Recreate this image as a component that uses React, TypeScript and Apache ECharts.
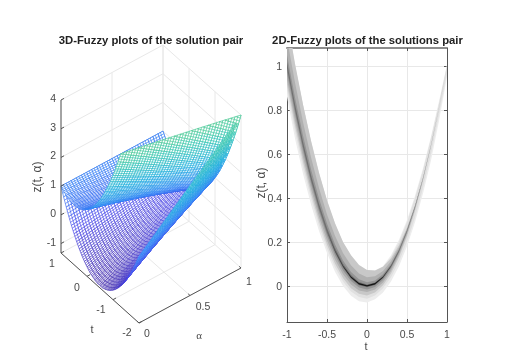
import React, { useEffect, useRef } from "react";
import * as echarts from "echarts";

// ---------- left panel: values ----------
const tValues = [-2,-1.9,-1.8,-1.7,-1.6,-1.5,-1.4,-1.3,-1.2,-1.1,-1,-.9,-.8,-.7,-.6,-.5,-.4,-.3,-.2,-.1,0,.1,.2,.3,.4,.5,.6,.7,.8,.9,1];
const alphaValues = [0,.05,.1,.15,.2,.25,.3,.35,.4,.45,.5,.55,.6,.65,.7,.75,.8,.85,.9,.95,1];
// one row per t, one column per alpha
const upperSheet = [
[7,6.85,6.7,6.55,6.4,6.25,6.1,5.95,5.8,5.65,5.5,5.35,5.2,5.05,4.9,4.75,4.6,4.45,4.3,4.15,4],
[6.51,6.37,6.22,6.08,5.93,5.79,5.64,5.5,5.35,5.21,5.06,4.92,4.77,4.63,4.48,4.34,4.19,4.05,3.9,3.76,3.61],
[6.04,5.9,5.76,5.62,5.48,5.34,5.2,5.06,4.92,4.78,4.64,4.5,4.36,4.22,4.08,3.94,3.8,3.66,3.52,3.38,3.24],
[5.59,5.46,5.32,5.19,5.05,4.92,4.78,4.65,4.51,4.38,4.24,4.11,3.97,3.84,3.7,3.57,3.43,3.3,3.16,3.03,2.89],
[5.16,5.03,4.9,4.77,4.64,4.51,4.38,4.25,4.12,3.99,3.86,3.73,3.6,3.47,3.34,3.21,3.08,2.95,2.82,2.69,2.56],
[4.75,4.63,4.5,4.38,4.25,4.13,4,3.88,3.75,3.63,3.5,3.38,3.25,3.13,3,2.88,2.75,2.63,2.5,2.38,2.25],
[4.36,4.24,4.12,4,3.88,3.76,3.64,3.52,3.4,3.28,3.16,3.04,2.92,2.8,2.68,2.56,2.44,2.32,2.2,2.08,1.96],
[3.99,3.88,3.76,3.65,3.53,3.42,3.3,3.19,3.07,2.96,2.84,2.73,2.61,2.5,2.38,2.27,2.15,2.04,1.92,1.81,1.69],
[3.64,3.53,3.42,3.31,3.2,3.09,2.98,2.87,2.76,2.65,2.54,2.43,2.32,2.21,2.1,1.99,1.88,1.77,1.66,1.55,1.44],
[3.31,3.21,3.1,3,2.89,2.79,2.68,2.58,2.47,2.37,2.26,2.16,2.05,1.95,1.84,1.74,1.63,1.53,1.42,1.32,1.21],
[3,2.9,2.8,2.7,2.6,2.5,2.4,2.3,2.2,2.1,2,1.9,1.8,1.7,1.6,1.5,1.4,1.3,1.2,1.1,1],
[2.71,2.62,2.52,2.43,2.33,2.24,2.14,2.05,1.95,1.86,1.76,1.67,1.57,1.48,1.38,1.29,1.19,1.1,1,.91,.81],
[2.44,2.35,2.26,2.17,2.08,1.99,1.9,1.81,1.72,1.63,1.54,1.45,1.36,1.27,1.18,1.09,1,.91,.82,.73,.64],
[2.19,2.11,2.02,1.94,1.85,1.77,1.68,1.6,1.51,1.43,1.34,1.26,1.17,1.09,1,.92,.83,.75,.66,.58,.49],
[1.96,1.88,1.8,1.72,1.64,1.56,1.48,1.4,1.32,1.24,1.16,1.08,1,.92,.84,.76,.68,.6,.52,.44,.36],
[1.75,1.68,1.6,1.53,1.45,1.38,1.3,1.23,1.15,1.08,1,.93,.85,.78,.7,.63,.55,.48,.4,.33,.25],
[1.56,1.49,1.42,1.35,1.28,1.21,1.14,1.07,1,.93,.86,.79,.72,.65,.58,.51,.44,.37,.3,.23,.16],
[1.39,1.33,1.26,1.2,1.13,1.07,1,.94,.87,.81,.74,.68,.61,.55,.48,.42,.35,.29,.22,.16,.09],
[1.24,1.18,1.12,1.06,1,.94,.88,.82,.76,.7,.64,.58,.52,.46,.4,.34,.28,.22,.16,.1,.04],
[1.11,1.06,1,.95,.89,.84,.78,.73,.67,.62,.56,.51,.45,.4,.34,.29,.23,.18,.12,.07,.01],
[1,.95,.9,.85,.8,.75,.7,.65,.6,.55,.5,.45,.4,.35,.3,.25,.2,.15,.1,.05,0],
[.91,.87,.82,.78,.73,.69,.64,.6,.55,.51,.46,.42,.37,.33,.28,.24,.19,.15,.1,.06,.01],
[.84,.8,.76,.72,.68,.64,.6,.56,.52,.48,.44,.4,.36,.32,.28,.24,.2,.16,.12,.08,.04],
[.79,.76,.72,.69,.65,.62,.58,.55,.51,.48,.44,.41,.37,.34,.3,.27,.23,.2,.16,.13,.09],
[.76,.73,.7,.67,.64,.61,.58,.55,.52,.49,.46,.43,.4,.37,.34,.31,.28,.25,.22,.19,.16],
[.75,.73,.7,.68,.65,.63,.6,.58,.55,.53,.5,.48,.45,.43,.4,.38,.35,.33,.3,.28,.25],
[.76,.74,.72,.7,.68,.66,.64,.62,.6,.58,.56,.54,.52,.5,.48,.46,.44,.42,.4,.38,.36],
[.79,.78,.76,.75,.73,.72,.7,.69,.67,.66,.64,.63,.61,.6,.58,.57,.55,.54,.52,.51,.49],
[.84,.83,.82,.81,.8,.79,.78,.77,.76,.75,.74,.73,.72,.71,.7,.69,.68,.67,.66,.65,.64],
[.91,.91,.9,.9,.89,.89,.88,.88,.87,.87,.86,.86,.85,.85,.84,.84,.83,.83,.82,.82,.81],
[1,1,1,1,1,1,1,1,1,1,1,1,1,1,1,1,1,1,1,1,1],
];
const lowerSheet = [
[1,1.15,1.3,1.45,1.6,1.75,1.9,2.05,2.2,2.35,2.5,2.65,2.8,2.95,3.1,3.25,3.4,3.55,3.7,3.85,4],
[.71,.86,1,1.15,1.29,1.44,1.58,1.73,1.87,2.02,2.16,2.31,2.45,2.6,2.74,2.89,3.03,3.18,3.32,3.47,3.61],
[.44,.58,.72,.86,1,1.14,1.28,1.42,1.56,1.7,1.84,1.98,2.12,2.26,2.4,2.54,2.68,2.82,2.96,3.1,3.24],
[.19,.33,.46,.6,.73,.87,1,1.14,1.27,1.41,1.54,1.68,1.81,1.95,2.08,2.22,2.35,2.49,2.62,2.76,2.89],
[-.04,.09,.22,.35,.48,.61,.74,.87,1,1.13,1.26,1.39,1.52,1.65,1.78,1.91,2.04,2.17,2.3,2.43,2.56],
[-.25,-.13,0,.13,.25,.38,.5,.63,.75,.88,1,1.13,1.25,1.38,1.5,1.63,1.75,1.88,2,2.13,2.25],
[-.44,-.32,-.2,-.08,.04,.16,.28,.4,.52,.64,.76,.88,1,1.12,1.24,1.36,1.48,1.6,1.72,1.84,1.96],
[-.61,-.5,-.38,-.27,-.15,-.04,.08,.19,.31,.42,.54,.65,.77,.88,1,1.11,1.23,1.34,1.46,1.57,1.69],
[-.76,-.65,-.54,-.43,-.32,-.21,-.1,.01,.12,.23,.34,.45,.56,.67,.78,.89,1,1.11,1.22,1.33,1.44],
[-.89,-.79,-.68,-.58,-.47,-.37,-.26,-.16,-.05,.06,.16,.27,.37,.48,.58,.69,.79,.9,1,1.11,1.21],
[-1,-.9,-.8,-.7,-.6,-.5,-.4,-.3,-.2,-.1,0,.1,.2,.3,.4,.5,.6,.7,.8,.9,1],
[-1.09,-1,-.9,-.81,-.71,-.62,-.52,-.43,-.33,-.24,-.14,-.05,.05,.14,.24,.33,.43,.52,.62,.72,.81],
[-1.16,-1.07,-.98,-.89,-.8,-.71,-.62,-.53,-.44,-.35,-.26,-.17,-.08,.01,.1,.19,.28,.37,.46,.55,.64],
[-1.21,-1.13,-1.04,-.96,-.87,-.79,-.7,-.62,-.53,-.45,-.36,-.28,-.19,-.11,-.02,.07,.15,.24,.32,.41,.49],
[-1.24,-1.16,-1.08,-1,-.92,-.84,-.76,-.68,-.6,-.52,-.44,-.36,-.28,-.2,-.12,-.04,.04,.12,.2,.28,.36],
[-1.25,-1.18,-1.1,-1.03,-.95,-.88,-.8,-.73,-.65,-.58,-.5,-.43,-.35,-.28,-.2,-.13,-.05,.03,.1,.18,.25],
[-1.24,-1.17,-1.1,-1.03,-.96,-.89,-.82,-.75,-.68,-.61,-.54,-.47,-.4,-.33,-.26,-.19,-.12,-.05,.02,.09,.16],
[-1.21,-1.15,-1.08,-1.02,-.95,-.89,-.82,-.76,-.69,-.63,-.56,-.5,-.43,-.37,-.3,-.24,-.17,-.11,-.04,.03,.09],
[-1.16,-1.1,-1.04,-.98,-.92,-.86,-.8,-.74,-.68,-.62,-.56,-.5,-.44,-.38,-.32,-.26,-.2,-.14,-.08,-.02,.04],
[-1.09,-1.04,-.98,-.93,-.87,-.82,-.76,-.71,-.65,-.6,-.54,-.49,-.43,-.38,-.32,-.27,-.21,-.16,-.1,-.05,.01],
[-1,-.95,-.9,-.85,-.8,-.75,-.7,-.65,-.6,-.55,-.5,-.45,-.4,-.35,-.3,-.25,-.2,-.15,-.1,-.05,0],
[-.89,-.85,-.8,-.76,-.71,-.67,-.62,-.58,-.53,-.49,-.44,-.4,-.35,-.31,-.26,-.22,-.17,-.13,-.08,-.04,.01],
[-.76,-.72,-.68,-.64,-.6,-.56,-.52,-.48,-.44,-.4,-.36,-.32,-.28,-.24,-.2,-.16,-.12,-.08,-.04,0,.04],
[-.61,-.58,-.54,-.51,-.47,-.44,-.4,-.37,-.33,-.3,-.26,-.23,-.19,-.16,-.12,-.09,-.05,-.02,.02,.06,.09],
[-.44,-.41,-.38,-.35,-.32,-.29,-.26,-.23,-.2,-.17,-.14,-.11,-.08,-.05,-.02,.01,.04,.07,.1,.13,.16],
[-.25,-.23,-.2,-.18,-.15,-.13,-.1,-.08,-.05,-.03,0,.03,.05,.08,.1,.13,.15,.18,.2,.23,.25],
[-.04,-.02,0,.02,.04,.06,.08,.1,.12,.14,.16,.18,.2,.22,.24,.26,.28,.3,.32,.34,.36],
[.19,.21,.22,.24,.25,.27,.28,.3,.31,.33,.34,.36,.37,.39,.4,.42,.43,.45,.46,.48,.49],
[.44,.45,.46,.47,.48,.49,.5,.51,.52,.53,.54,.55,.56,.57,.58,.59,.6,.61,.62,.63,.64],
[.71,.72,.72,.73,.73,.74,.74,.75,.75,.76,.76,.77,.77,.78,.78,.79,.79,.8,.8,.81,.81],
[1,1,1,1,1,1,1,1,1,1,1,1,1,1,1,1,1,1,1,1,1],
];
const zTicks3d = [-1, 0, 1, 2, 3, 4];
const tTicks3d = [1, 0, -1, -2];
const alphaTicks3d = [0, 0.5, 1];
const zMin3d = -1.33;
const zMax3d = 4;

// ---------- right panel ----------
const bandT = [-1,-.9,-.8,-.7,-.6,-.5,-.4,-.3,-.2,-.1,0,.1,.2,.3,.4,.5,.6,.7,.8,.9,1];
const bandCentre = [1,.81,.64,.49,.36,.25,.16,.09,.04,.01,0,.01,.04,.09,.16,.25,.36,.49,.64,.81,1];
const up0 = [.22,.2,.185,.17,.155,.14,.125,.11,.1,.085,.073,.06,.05,.05,.05,.05,.05,.045,.04,.03,.005];
const lo0 = [.14,.14,.13,.12,.11,.1,.095,.09,.085,.08,.075,.07,.07,.07,.07,.07,.07,.07,.07,.06,.05];
const up1 = [.2,.19,.18,.165,.15,.135,.12,.105,.095,.08,.07,.058,.046,.04,.04,.04,.04,.035,.03,.02,.003];
const lo1 = [.11,.105,.1,.09,.085,.08,.075,.07,.065,.06,.058,.054,.05,.05,.05,.05,.05,.045,.04,.03,.03];
const up2 = [.22,.2,.185,.17,.155,.14,.125,.11,.1,.085,.073,.06,.047,.035,.025,.015,.008,.004,.002,.001,0];
const lo2 = [.085,.08,.075,.07,.066,.062,.058,.054,.05,.046,.043,.04,.037,.034,.03,.025,.018,.012,.006,.002,0];
const up3 = [.125,.115,.105,.095,.085,.075,.068,.06,.054,.046,.04,.034,.028,.022,.016,.01,.005,.002,.001,0,0];
const lo3 = [.06,.056,.052,.048,.045,.042,.04,.037,.034,.031,.028,.026,.024,.022,.019,.015,.01,.006,.003,.001,0];
const up4 = [.05,.047,.044,.041,.038,.034,.03,.026,.023,.02,.017,.015,.013,.01,.007,.004,.002,.001,0,0,0];
const lo4 = [.03,.028,.026,.024,.023,.022,.021,.02,.018,.017,.016,.015,.013,.011,.009,.006,.003,.002,.001,0,0];
const up5 = [.018,.017,.016,.015,.014,.013,.012,.011,.01,.008,.007,.006,.005,.004,.003,.002,.001,0,0,0,0];
const lo5 = [.01,.01,.009,.009,.008,.008,.008,.007,.007,.007,.006,.006,.005,.004,.003,.002,.001,0,0,0,0];
const core = [0,0,0,0,0,0,.001,.002,.003,.003,.003,.003,.002,.001,0,0,0,0,0,0,0];
const yTicks2d = [0, 0.2, 0.4, 0.6, 0.8, 1];

const titleLeft = "3D-Fuzzy plots of the solution pair";
const titleRight = "2D-Fuzzy plots of the solutions pair";

// ---------- styling ----------
const SANS = "Liberation Sans";
const INK = "#4a4a4a";
const GRID = "#e8e8e8";
const parula = [[62,38,168],[70,70,235],[45,130,245],[18,170,220],[40,195,170],[100,205,120],[170,200,60],[250,195,45],[249,251,21]];
const COLOUR_LOW = -1.25;
const COLOUR_HIGH = 8.0;
// Wire texture drawn inside each table cell; it adds no values, it is a hatch style.
const HATCH_RULINGS = [1 / 3, 2 / 3];
const HATCH_CROSS = [0.5];
const bandLayers = [
  { up: up0, lo: lo0, fill: "#ededed" },
  { up: up1, lo: lo1, fill: "#e0e0e0" },
  { up: up2, lo: lo2, fill: "#c8c8c8" },
  { up: up3, lo: lo3, fill: "#b0b0b0" },
  { up: up4, lo: lo4, fill: "#949494" },
  { up: up5, lo: lo5, fill: "#707070" },
  { up: core, lo: core, fill: "#141414" },
];

const colourOf = (z: number) => {
  const f = Math.min(1, Math.max(0, (z - COLOUR_LOW) / (COLOUR_HIGH - COLOUR_LOW))) * (parula.length - 1);
  const i = Math.min(parula.length - 2, Math.floor(f));
  const k = f - i;
  const c = [0, 1, 2].map((n) => Math.round(parula[i][n] * (1 - k) + parula[i + 1][n] * k));
  return `rgb(${c[0]},${c[1]},${c[2]})`;
};

// oblique view of the box: (t, alpha, z) -> position on the hidden page-sized axes
const project = (t: number, a: number, z: number) => [
  61 + 26 * (1 - t) + 102 * a,
  253 + 23.33 * (1 - t) - 55 * a - 28.7 * (z - zMin3d),
];
const nearness = (t: number, a: number, z: number) => -24 * t - 57 * a + 27.8 * z;

type V = [number, number, number];
const clipTop = (vs: V[]) => {
  const out: V[] = [];
  vs.forEach((p, i) => {
    const q = vs[(i + 1) % vs.length];
    if (p[2] <= zMax3d) out.push(p);
    if (p[2] <= zMax3d !== q[2] <= zMax3d) {
      const k = (zMax3d - p[2]) / (q[2] - p[2]);
      out.push([p[0] + (q[0] - p[0]) * k, p[1] + (q[1] - p[1]) * k, zMax3d]);
    }
  });
  return out;
};
const mix = (p: V, q: V, k: number): V => [p[0] + (q[0] - p[0]) * k, p[1] + (q[1] - p[1]) * k, p[2] + (q[2] - p[2]) * k];

const buildCells = () => {
  const cells: { pts: number[][]; hatch: number[][][]; near: number; colour: string }[] = [];
  [upperSheet, lowerSheet].forEach((sheet) => {
    for (let i = 0; i < tValues.length - 1; i++) {
      for (let j = 0; j < alphaValues.length - 1; j++) {
        const raw: V[] = [
          [tValues[i], alphaValues[j], sheet[i][j]],
          [tValues[i + 1], alphaValues[j], sheet[i + 1][j]],
          [tValues[i + 1], alphaValues[j + 1], sheet[i + 1][j + 1]],
          [tValues[i], alphaValues[j + 1], sheet[i][j + 1]],
        ];
        const vs = clipTop(raw);
        if (vs.length < 3) continue;
        const mean = [0, 1, 2].map((n) => vs.reduce((s, v) => s + v[n], 0) / vs.length);
        const hatch: number[][][] = [];
        const addHatch = (a: V, b: V) => {
          if (a[2] > zMax3d && b[2] > zMax3d) return;
          let s = a;
          let e = b;
          if (a[2] > zMax3d) s = mix(a, b, (zMax3d - a[2]) / (b[2] - a[2]));
          if (b[2] > zMax3d) e = mix(a, b, (zMax3d - a[2]) / (b[2] - a[2]));
          hatch.push([project(s[0], s[1], s[2]), project(e[0], e[1], e[2])]);
        };
        HATCH_RULINGS.forEach((k) => addHatch(mix(raw[0], raw[1], k), mix(raw[3], raw[2], k)));
        HATCH_CROSS.forEach((k) => addHatch(mix(raw[0], raw[3], k), mix(raw[1], raw[2], k)));
        cells.push({
          pts: vs.map((v) => project(v[0], v[1], v[2])),
          hatch,
          near: nearness(mean[0], mean[1], mean[2]),
          colour: colourOf(mean[2]),
        });
      }
    }
  });
  cells.sort((a, b) => a.near - b.near);
  return cells;
};

const buildSegments = () => {
  const grid: number[][][] = [];
  const axes: number[][][] = [];
  const seg = (list: number[][][], a: V, b: V) => list.push([project(...a), project(...b)]);
  zTicks3d.forEach((z) => {
    seg(grid, [1, 0, z], [1, 1, z]);
    seg(grid, [1, 1, z], [-2, 1, z]);
    seg(axes, [1, 0, z], [1, 0.03, z]);
  });
  tTicks3d.forEach((t) => {
    seg(grid, [t, 0, zMin3d], [t, 1, zMin3d]);
    seg(grid, [t, 1, zMin3d], [t, 1, zMax3d]);
    seg(axes, [t, 0, zMin3d], [t, 0.03, zMin3d]);
  });
  alphaTicks3d.forEach((a) => {
    seg(grid, [1, a, zMin3d], [-2, a, zMin3d]);
    seg(grid, [1, a, zMin3d], [1, a, zMax3d]);
    seg(axes, [-2, a, zMin3d], [-1.93, a, zMin3d]);
  });
  seg(axes, [1, 0, zMin3d], [1, 0, zMax3d]);
  seg(axes, [1, 0, zMin3d], [-2, 0, zMin3d]);
  seg(axes, [-2, 0, zMin3d], [-2, 1, zMin3d]);
  return { grid, axes };
};

const buildLabels = () => {
  const out: { text: string; at: number[]; dx: number; dy: number; align: string }[] = [];
  zTicks3d.forEach((z) => out.push({ text: String(z), at: project(1, 0, z), dx: -5, dy: -2, align: "right" }));
  const tOff = [[-9, 10], [-10, 11], [-12, 9], [-12, 9]];
  tTicks3d.forEach((t, i) => out.push({ text: String(t), at: project(t, 0, zMin3d), dx: tOff[i][0], dy: tOff[i][1], align: "center" }));
  const aOff = [[8, 10], [13, 11], [8, 13]];
  alphaTicks3d.forEach((a, i) => out.push({ text: String(a), at: project(-2, a, zMin3d), dx: aOff[i][0], dy: aOff[i][1], align: "center" }));
  return out;
};

const segmentSeries = (segs: number[][][], colour: string, width: number, z: number) => ({
  type: "custom",
  xAxisIndex: 0,
  yAxisIndex: 0,
  silent: true,
  z,
  data: segs.map((_, i) => [i]),
  renderItem: (p: any, api: any) => {
    const s = segs[p.dataIndex];
    const a = api.coord(s[0]);
    const b = api.coord(s[1]);
    return { type: "line", shape: { x1: a[0], y1: a[1], x2: b[0], y2: b[1] }, style: { stroke: colour, lineWidth: width } };
  },
});

const buildOption = () => {
  const cells = buildCells();
  const { grid, axes } = buildSegments();
  const labels = buildLabels();
  const axisLine = { show: true, onZero: false, lineStyle: { color: "#555555", width: 1 } };
  return {
    animation: false,
    backgroundColor: "#ffffff",
    grid: [
      { left: 0, top: 0, width: 505, height: 360, show: false },
      { left: 287, top: 48, width: 160, height: 274, show: false },
    ],
    xAxis: [
      { gridIndex: 0, type: "value", min: 0, max: 505, show: false },
      {
        gridIndex: 1, type: "value", min: -1, max: 1, interval: 0.5, position: "bottom",
        axisLine, axisTick: { inside: true, length: 3, lineStyle: { color: "#555555" } },
        axisLabel: { color: INK, fontFamily: SANS, fontSize: 10.5, margin: 6, hideOverlap: false, showMinLabel: true, showMaxLabel: true, formatter: (v: number) => String(v) },
        splitLine: { show: true, lineStyle: { color: GRID } },
      },
      {
        gridIndex: 1, type: "value", min: -1, max: 1, interval: 0.5, position: "top",
        axisLine: { show: true, onZero: false, lineStyle: { color: "#8c8c8c", width: 2 } },
        axisTick: { inside: true, length: 3, lineStyle: { color: "#555555" } }, axisLabel: { show: false }, splitLine: { show: false },
      },
    ],
    yAxis: [
      { gridIndex: 0, type: "value", min: 0, max: 360, inverse: true, show: false },
      {
        gridIndex: 1, type: "value", min: -0.164, max: 1.082, position: "left",
        axisLine, axisTick: { inside: true, length: 3, customValues: yTicks2d, lineStyle: { color: "#555555" } },
        axisLabel: { color: INK, fontFamily: SANS, fontSize: 10.5, margin: 5, customValues: yTicks2d, formatter: (v: number) => String(v) },
        splitLine: { show: true, lineStyle: { color: GRID } },
      },
      {
        gridIndex: 1, type: "value", min: -0.164, max: 1.082, position: "right",
        axisLine, axisTick: { inside: true, length: 3, customValues: yTicks2d, lineStyle: { color: "#555555" } },
        axisLabel: { show: false, customValues: yTicks2d }, splitLine: { show: false },
      },
    ],
    series: [
      segmentSeries(grid, GRID, 1, 1),
      {
        type: "custom", xAxisIndex: 0, yAxisIndex: 0, silent: true, z: 2,
        data: cells.map((_, i) => [i]),
        renderItem: (p: any, api: any) => {
          const c = cells[p.dataIndex];
          const style = { stroke: c.colour, lineWidth: 0.65 };
          return {
            type: "group",
            children: [
              { type: "polygon", shape: { points: c.pts.map((q) => api.coord(q)) }, style: { ...style, fill: "#ffffff" } },
              ...c.hatch.map((h) => {
                const a = api.coord(h[0]);
                const b = api.coord(h[1]);
                return { type: "line", shape: { x1: a[0], y1: a[1], x2: b[0], y2: b[1] }, style };
              }),
            ],
          };
        },
      },
      segmentSeries(axes, "#555555", 1, 3),
      {
        type: "custom", xAxisIndex: 0, yAxisIndex: 0, silent: true, z: 4,
        data: labels.map((_, i) => [i]),
        renderItem: (p: any, api: any) => {
          const l = labels[p.dataIndex];
          const a = api.coord(l.at);
          return {
            type: "text",
            x: a[0] + l.dx,
            y: a[1] + l.dy,
            style: { text: l.text, fill: INK, font: `10.5px "${SANS}"`, textAlign: l.align, textVerticalAlign: "middle" },
          };
        },
      },
      ...bandLayers.map((layer, li) => ({
        type: "custom", xAxisIndex: 1, yAxisIndex: 1, silent: true, clip: true, z: 5 + li,
        data: [[0]],
        renderItem: (_: any, api: any) => {
          const top = bandT.map((t, i) => api.coord([t, bandCentre[i] + layer.up[i]]));
          const bottom = bandT.map((t, i) => api.coord([t, bandCentre[i] - layer.lo[i]])).reverse();
          const rect = api.coord([-1, 1.082]);
          const end = api.coord([1, -0.164]);
          return {
            type: "polygon",
            shape: { points: top.concat(bottom) },
            style: { fill: layer.fill },
            clipPath: { type: "rect", shape: { x: rect[0], y: rect[1], width: end[0] - rect[0], height: end[1] - rect[1] } },
          };
        },
      })),
    ],
    graphic: [
      { type: "text", x: 151, y: 40, z: 20, style: { text: titleLeft, fill: "#222222", font: `bold 11.3px "${SANS}"`, textAlign: "center", textVerticalAlign: "middle" } },
      { type: "text", x: 367.5, y: 40, z: 20, style: { text: titleRight, fill: "#222222", font: `bold 11.3px "${SANS}"`, textAlign: "center", textVerticalAlign: "middle" } },
      { type: "text", x: 37, y: 177, rotation: Math.PI / 2, z: 20, style: { text: "z(t, α)", fill: INK, font: `12px "${SANS}"`, textAlign: "center", textVerticalAlign: "middle" } },
      { type: "text", x: 261, y: 183, rotation: Math.PI / 2, z: 20, style: { text: "z(t, α)", fill: INK, font: `12px "${SANS}"`, textAlign: "center", textVerticalAlign: "middle" } },
      { type: "text", x: 92, y: 329, z: 20, style: { text: "t", fill: INK, font: `11px "${SANS}"`, textAlign: "center", textVerticalAlign: "middle" } },
      { type: "text", x: 199, y: 335, z: 20, style: { text: "α", fill: INK, font: `11px "Liberation Serif"`, textAlign: "center", textVerticalAlign: "middle" } },
      { type: "text", x: 366, y: 346, z: 20, style: { text: "t", fill: INK, font: `11px "${SANS}"`, textAlign: "center", textVerticalAlign: "middle" } },
    ],
  };
};

export default function App() {
  const ref = useRef<HTMLDivElement>(null);
  useEffect(() => {
    const chart = echarts.init(ref.current!, undefined, { renderer: "svg" });
    chart.setOption(buildOption() as any);
    return () => chart.dispose();
  }, []);
  return (
    <div
      ref={ref}
      style={{ position: "fixed", left: 0, top: 0, width: 505, height: 360, filter: "blur(0.4px)" }}
    />
  );
}
